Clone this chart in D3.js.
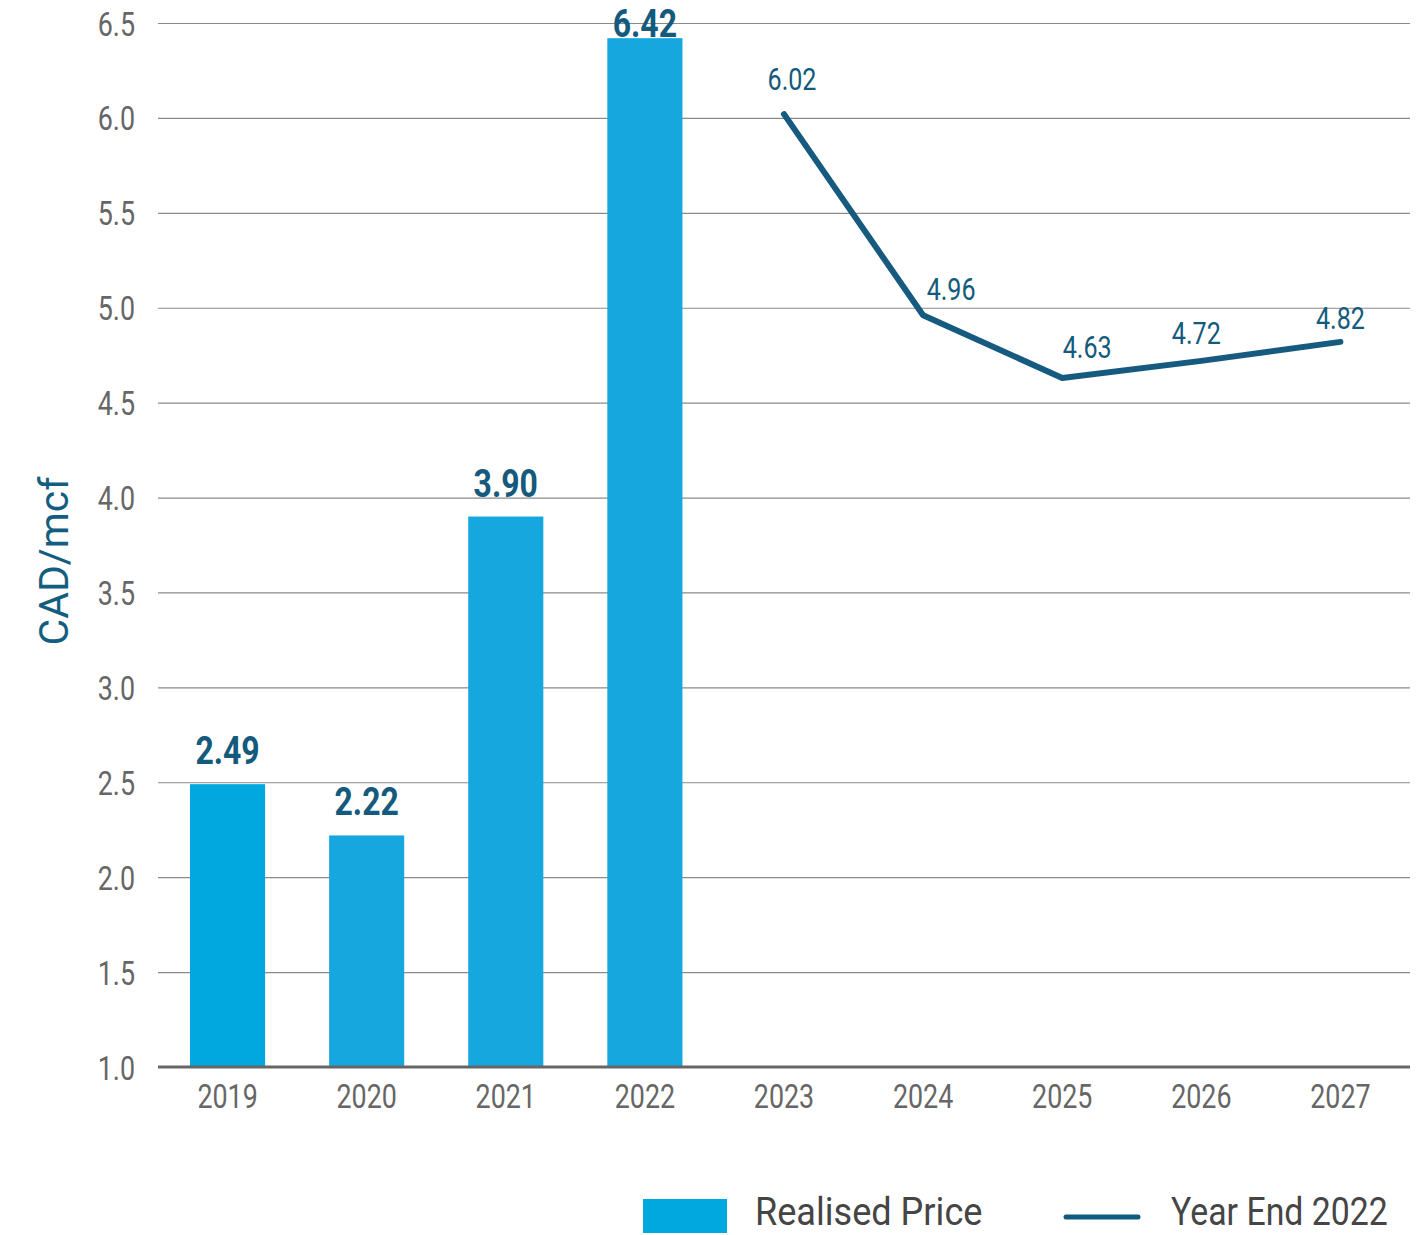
<!DOCTYPE html>
<html>
<head>
<meta charset="utf-8">
<script src="https://cdn.jsdelivr.net/npm/d3@7"></script>
<style>
  html, body { margin: 0; padding: 0; background: #ffffff; }
  svg { display: block; font-family: Roboto, "Noto Sans", sans-serif; }
</style>
</head>
<body>
<svg id="chart" width="1418" height="1235"></svg>
<script>
// Years shown on the x axis
const years = ["2019", "2020", "2021", "2022", "2023", "2024", "2025", "2026", "2027"];

// Realised gas price (CAD/mcf), historical years
const realisedYears = ["2019", "2020", "2021", "2022"];
const realisedPrice = [2.49, 2.22, 3.90, 6.42];

// Year End 2022 forward price deck (CAD/mcf)
const forecastYears = ["2023", "2024", "2025", "2026", "2027"];
const forecastPrice = [6.02, 4.96, 4.63, 4.72, 4.82];

// Y axis ticks
const yTicks = [1.0, 1.5, 2.0, 2.5, 3.0, 3.5, 4.0, 4.5, 5.0, 5.5, 6.0, 6.5];

// Series names for the legend
const seriesNames = ["Realised Price", "Year End 2022"];

// Colours
const barColors = ["#00a8e0", "#17a7df", "#17a7df", "#17a7df"];
const legendBarColor = "#00a8e0";
const lineColor = "#165b7f";
const valueColor = "#135a7c";
const tickColor = "#666666";

// Placement of the forecast value labels relative to their points, so they clear the line
const forecastLabelNudge = [[8, -24], [28, -15], [25, -20], [-5, -17], [0, -13]];

const svg = d3.select("#chart");
const plotLeft = 158, plotRight = 1410, plotTop = 23, plotBottom = 1067;

const x = d3.scaleBand().domain(years).range([plotLeft, plotRight]).paddingInner(0.46).paddingOuter(0.23);
const y = d3.scaleLinear().domain([1.0, 6.5]).range([plotBottom, plotTop]);

// Condensed-looking text: Roboto squeezed horizontally
function ctext(g, px, py, str, opts) {
  return g.append("text")
    .attr("transform", `translate(${px},${py}) scale(${opts.sx || 0.8},1)`)
    .attr("text-anchor", opts.anchor || "middle")
    .attr("font-size", opts.size)
    .attr("font-weight", opts.weight || "normal")
    .attr("fill", opts.color)
    .text(str);
}

// Horizontal grid + y tick labels
const yAxis = svg.append("g")
  .attr("transform", `translate(${plotLeft},0)`)
  .call(d3.axisLeft(y).tickValues(yTicks).tickFormat(d3.format(".1f"))
    .tickSize(-(plotRight - plotLeft)).tickPadding(0));
yAxis.select(".domain").remove();
yAxis.selectAll(".tick line").attr("stroke", "#8a8a8a").attr("stroke-width", 1.2);
yAxis.selectAll(".tick text")
  .attr("x", null).attr("dy", null)
  .attr("transform", "translate(-23,12) scale(0.79,1)")
  .attr("font-size", 34)
  .attr("font-family", "Roboto")
  .attr("fill", tickColor);
yAxis.selectAll(".tick").filter(d => d === 1.0).select("line").remove();

// Bars
const bars = svg.append("g");
bars.selectAll("rect")
  .data(realisedPrice)
  .join("rect")
  .attr("x", (d, i) => x(realisedYears[i]))
  .attr("width", x.bandwidth())
  .attr("y", d => y(d))
  .attr("height", d => y(1.0) - y(d))
  .attr("fill", (d, i) => barColors[i]);

// Bar value labels (kept inside the top edge of the chart)
const barLabels = svg.append("g");
realisedPrice.forEach((v, i) => {
  const cx = x(realisedYears[i]) + x.bandwidth() / 2;
  const by = Math.max(y(v) - 20, 37);
  ctext(barLabels, cx, by, d3.format(".2f")(v), { size: 39, weight: "bold", color: valueColor, sx: 0.82 });
});

// X axis baseline and labels
const xAxis = svg.append("g")
  .attr("transform", `translate(0,${plotBottom})`)
  .call(d3.axisBottom(x).tickSize(0).tickPadding(0));
xAxis.select(".domain")
  .attr("d", `M${plotLeft},0H${plotRight}`)
  .attr("stroke", "#666666").attr("stroke-width", 3);
xAxis.selectAll(".tick text")
  .attr("y", null).attr("dy", null)
  .attr("transform", "translate(0,41) scale(0.79,1)")
  .attr("font-size", 34)
  .attr("font-family", "Roboto")
  .attr("fill", tickColor);

// Forecast line
const linePts = forecastPrice.map((v, i) => [x(forecastYears[i]) + x.bandwidth() / 2, y(v)]);
svg.append("path")
  .attr("d", d3.line()(linePts))
  .attr("fill", "none")
  .attr("stroke", lineColor)
  .attr("stroke-width", 6)
  .attr("stroke-linejoin", "round")
  .attr("stroke-linecap", "round");

// Forecast value labels
const lineLabels = svg.append("g");
forecastPrice.forEach((v, i) => {
  const [px, py] = linePts[i];
  const [dx, dy] = forecastLabelNudge[i];
  ctext(lineLabels, px + dx, py + dy, d3.format(".2f")(v), { size: 31, color: valueColor, sx: 0.81 });
});

// Y axis title
svg.append("text")
  .attr("transform", "translate(68,561) rotate(-90)")
  .attr("text-anchor", "middle")
  .attr("font-size", 41)
  .attr("fill", "#135d80")
  .text("CAD/mcf");

// Legend
const legend = svg.append("g");
legend.append("rect")
  .attr("x", 643).attr("y", 1199).attr("width", 84).attr("height", 34)
  .attr("fill", legendBarColor);
ctext(legend, 755, 1225, seriesNames[0], { size: 38, color: "#454545", anchor: "start", sx: 0.95 });
legend.append("line")
  .attr("x1", 1066).attr("x2", 1138).attr("y1", 1217).attr("y2", 1217)
  .attr("stroke", "#0f5a7e").attr("stroke-width", 5).attr("stroke-linecap", "round");
ctext(legend, 1171, 1225, seriesNames[1], { size: 38, color: "#454545", anchor: "start", sx: 0.89 });
</script>
</body>
</html>
